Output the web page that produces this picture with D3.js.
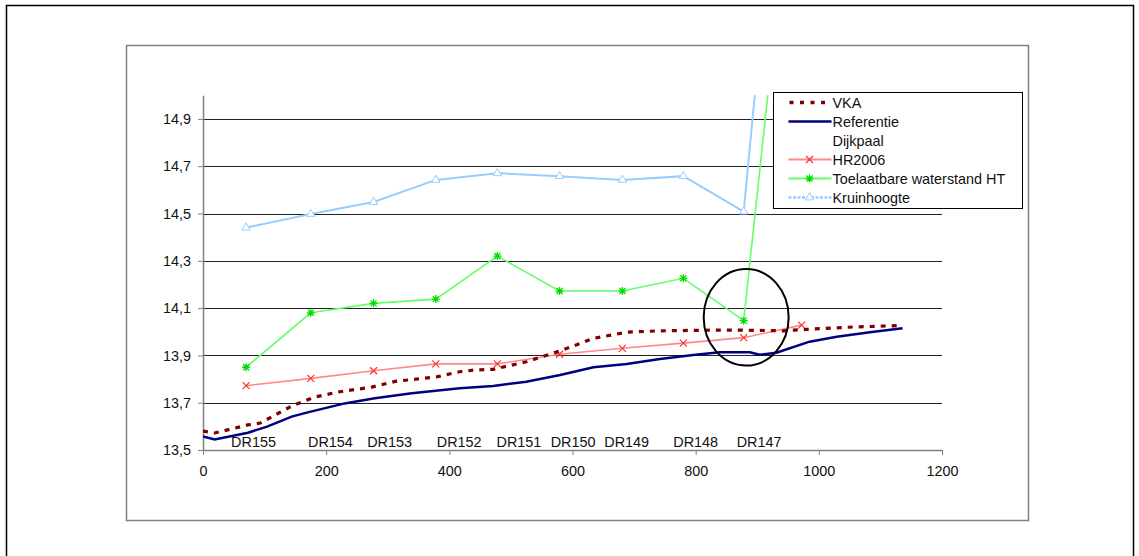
<!DOCTYPE html>
<html>
<head>
<meta charset="utf-8">
<script src="https://cdn.jsdelivr.net/npm/d3@7"></script>
<style>
  body { margin: 0; background: #fff; }
  text { font-family: "Liberation Sans", Arial, sans-serif; fill: #111; }
</style>
</head>
<body>
<div id="chart"></div>
<script>
// Series data (afstand in m, hoogte in m+NAP)
const vkaX = [0, 19, 73, 93, 144, 182, 219, 274, 312, 381, 417, 441, 471, 525, 580, 634, 688, 742, 839, 872, 942, 980, 1055, 1130];
const vkaY = [13.58, 13.572, 13.606, 13.614, 13.686, 13.724, 13.745, 13.766, 13.79, 13.81, 13.831, 13.838, 13.841, 13.873, 13.919, 13.972, 13.998, 14.004, 14.007, 14.007, 14.004, 14.01, 14.02, 14.026];

const refX = [0, 19, 73, 104, 144, 170, 230, 279, 339, 417, 441, 471, 525, 580, 634, 688, 742, 796, 839, 872, 888, 904, 931, 985, 1029, 1083, 1136];
const refY = [13.557, 13.545, 13.573, 13.599, 13.641, 13.659, 13.697, 13.719, 13.74, 13.761, 13.765, 13.771, 13.789, 13.817, 13.85, 13.864, 13.885, 13.902, 13.913, 13.913, 13.913, 13.903, 13.911, 13.958, 13.979, 13.998, 14.015];

const dijkpaalX = [82, 207, 303, 416, 513, 601, 688, 800, 903];
const dijkpaalLabels = ["DR155", "DR154", "DR153", "DR152", "DR151", "DR150", "DR149", "DR148", "DR147"];

const hrX = [70, 175, 277, 378, 478, 579, 681, 780, 878, 972];
const hrY = [13.772, 13.803, 13.835, 13.864, 13.864, 13.905, 13.93, 13.952, 13.975, 14.028];

const toelX = [70, 175, 277, 378, 478, 579, 681, 780, 878, 972];
const toelY = [13.85, 14.08, 14.12, 14.138, 14.32, 14.172, 14.172, 14.226, 14.047, 16.34];

const kruinX = [70, 175, 277, 378, 478, 579, 681, 780, 878, 972];
const kruinY = [14.44, 14.498, 14.549, 14.642, 14.67, 14.658, 14.642, 14.658, 14.508, 17.08];

const xTicks = [0, 200, 400, 600, 800, 1000, 1200];
const yTicks = [13.5, 13.7, 13.9, 14.1, 14.3, 14.5, 14.7, 14.9];

const legendItems = [
    { label: "VKA", key: "vka" },
    { label: "Referentie", key: "ref" },
    { label: "Dijkpaal", key: "dijk" },
    { label: "HR2006", key: "hr" },
    { label: "Toelaatbare waterstand HT", key: "toel" },
    { label: "Kruinhoogte", key: "kruin" }
];

const W = 1139, H = 556;
const FS = "14.4px";

function zip(xs, ys) { return xs.map((x, i) => [x, ys[i]]); }

function drawChart() {
    const svg = d3.select("#chart").append("svg")
        .attr("width", W).attr("height", H);

    // outer frame + chart box
    svg.append("rect").attr("x", 6.5).attr("y", 5.5).attr("width", 1127).attr("height", 600)
        .attr("fill", "none").attr("stroke", "#000").attr("stroke-width", 1.5);
    svg.append("rect").attr("x", 126.5).attr("y", 45.5).attr("width", 902).attr("height", 475)
        .attr("fill", "#fff").attr("stroke", "#808080").attr("stroke-width", 1.5);

    const x = d3.scaleLinear().domain([0, 1200]).range([203, 942]);
    const y = d3.scaleLinear().domain([13.5, 15]).range([450, 95.25]);
    const fmt = d => d3.format(".1f")(d).replace(".", ",");

    // gridlines
    svg.append("g").selectAll("line")
        .data(yTicks.filter(d => d > 13.5))
        .enter().append("line")
        .attr("x1", x(0)).attr("x2", x(1200))
        .attr("y1", d => Math.round(y(d)) + 0.5).attr("y2", d => Math.round(y(d)) + 0.5)
        .attr("stroke", "#222").attr("stroke-width", 1);

    // axes
    const yAxis = svg.append("g")
        .attr("transform", `translate(${x(0)},0)`)
        .call(d3.axisLeft(y).tickValues(yTicks).tickFormat(fmt).tickSize(5).tickPadding(7).tickSizeOuter(0));
    const xAxis = svg.append("g")
        .attr("transform", `translate(0,${y(13.5)})`)
        .call(d3.axisBottom(x).tickValues(xTicks).tickFormat(d3.format("d")).tickSize(5).tickPadding(11).tickSizeOuter(0));
    [xAxis, yAxis].forEach(a => {
        a.select(".domain").attr("stroke", "#808080").attr("stroke-width", 1.5);
        a.selectAll(".tick line").attr("stroke", "#808080");
        a.selectAll("text").attr("font-size", FS).attr("fill", "#111")
            .attr("font-family", "Liberation Sans, Arial, sans-serif");
    });

    // clip to plot area
    svg.append("clipPath").attr("id", "plot")
        .append("rect").attr("x", x(0)).attr("y", y(15)).attr("width", x(1200) - x(0)).attr("height", y(13.5) - y(15));
    const plot = svg.append("g").attr("clip-path", "url(#plot)");
    const line = d3.line().x(d => x(d[0])).y(d => y(d[1]));

    // Kruinhoogte
    plot.append("path").datum(zip(kruinX, kruinY)).attr("d", line)
        .attr("fill", "none").attr("stroke", "#99ccff").attr("stroke-width", 2);
    plot.selectAll(".kruin").data(zip(kruinX, kruinY)).enter().append("path")
        .attr("transform", d => `translate(${x(d[0])},${y(d[1])})`)
        .attr("d", d3.symbol(d3.symbolTriangle, 30))
        .attr("fill", "#fff").attr("stroke", "#99ccff").attr("stroke-width", 1);

    // Toelaatbare waterstand HT
    plot.append("path").datum(zip(toelX, toelY)).attr("d", line)
        .attr("fill", "none").attr("stroke", "#66ff66").attr("stroke-width", 1.6);
    plot.selectAll(".toel").data(zip(toelX, toelY)).enter().append("path")
        .attr("transform", d => `translate(${x(d[0])},${y(d[1])})`)
        .attr("d", "M-4,0H4M0,-4V4M-3,-3L3,3M-3,3L3,-3")
        .attr("stroke", "#00dd00").attr("stroke-width", 1.3);

    // HR2006
    plot.append("path").datum(zip(hrX, hrY)).attr("d", line)
        .attr("fill", "none").attr("stroke", "#ff8888").attr("stroke-width", 1.6);
    plot.selectAll(".hr").data(zip(hrX, hrY)).enter().append("path")
        .attr("transform", d => `translate(${x(d[0])},${y(d[1])})`)
        .attr("d", "M-3.5,-3.5L3.5,3.5M-3.5,3.5L3.5,-3.5")
        .attr("stroke", "#ff3333").attr("stroke-width", 1.2);

    // Referentie
    plot.append("path").datum(zip(refX, refY)).attr("d", line)
        .attr("fill", "none").attr("stroke", "#000080").attr("stroke-width", 2.5);

    // VKA
    plot.append("path").datum(zip(vkaX, vkaY)).attr("d", line)
        .attr("fill", "none").attr("stroke", "#800000").attr("stroke-width", 3.2)
        .attr("stroke-dasharray", "5,6");

    // Dijkpaal labels
    svg.append("g").selectAll("text")
        .data(dijkpaalX.map((d, i) => ({ x: d, label: dijkpaalLabels[i] })))
        .enter().append("text")
        .attr("x", d => x(d.x)).attr("y", y(13.5) - 3)
        .attr("text-anchor", "middle").attr("font-size", FS)
        .attr("fill", "#222")
        .text(d => d.label);

    // annotation ellipse
    svg.append("ellipse")
        .attr("cx", x(882)).attr("cy", y(14.061))
        .attr("rx", x(69) - x(0)).attr("ry", y(13.5) - y(13.704))
        .attr("fill", "none").attr("stroke", "#000").attr("stroke-width", 2);

    // legend
    const lg = svg.append("g").attr("transform", "translate(773.5,92.5)");
    lg.append("rect").attr("width", 249).attr("height", 116)
        .attr("fill", "#fff").attr("stroke", "#000").attr("stroke-width", 1);
    legendItems.forEach((it, i) => {
        const cy = 10 + i * 19;
        const row = lg.append("g").attr("transform", `translate(0,${cy})`);
        if (it.key === "vka") {
            row.append("line").attr("x1", 16).attr("x2", 58).attr("stroke", "#800000")
                .attr("stroke-width", 3.5).attr("stroke-dasharray", "4,6.5");
        } else if (it.key === "ref") {
            row.append("line").attr("x1", 15).attr("x2", 58).attr("stroke", "#000080").attr("stroke-width", 2.5);
        } else if (it.key === "hr") {
            row.append("line").attr("x1", 15).attr("x2", 58).attr("stroke", "#ff8888").attr("stroke-width", 2);
            row.append("path").attr("transform", "translate(36,0)").attr("d", "M-3.5,-3.5L3.5,3.5M-3.5,3.5L3.5,-3.5")
                .attr("stroke", "#ff3333").attr("stroke-width", 1.2);
        } else if (it.key === "toel") {
            row.append("line").attr("x1", 15).attr("x2", 58).attr("stroke", "#66ff66").attr("stroke-width", 2);
            row.append("path").attr("transform", "translate(36,0)").attr("d", "M-4,0H4M0,-4V4M-3,-3L3,3M-3,3L3,-3")
                .attr("stroke", "#00dd00").attr("stroke-width", 1.3);
        } else if (it.key === "kruin") {
            row.append("line").attr("x1", 15).attr("x2", 58).attr("stroke", "#99ccff").attr("stroke-width", 2.5)
                .attr("stroke-dasharray", "3,1.5");
            row.append("path").attr("transform", "translate(36,0)").attr("d", d3.symbol(d3.symbolTriangle, 30))
                .attr("fill", "#fff").attr("stroke", "#99ccff");
        }
        row.append("text").attr("x", 59).attr("y", 0).attr("dy", "0.35em")
            .attr("font-size", FS).text(it.label);
    });
}

document.addEventListener("DOMContentLoaded", drawChart);
</script>
</body>
</html>
